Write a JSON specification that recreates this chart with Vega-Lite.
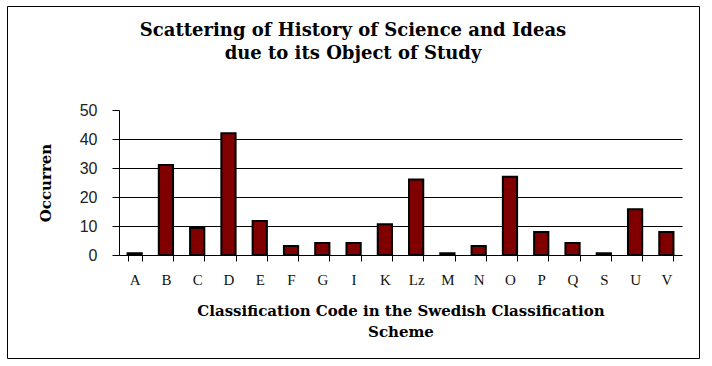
{
  "$schema": "https://vega.github.io/schema/vega-lite/v6.json",
  "width": 692,
  "height": 352,
  "padding": {"left": 7, "top": 6, "right": 6, "bottom": 6},
  "autosize": {"type": "pad"},
  "background": "white",
  "config": {"view": {"stroke": "black", "strokeWidth": 1}},
  "title": {
    "text": ["Scattering of History of Science and Ideas", "due to its Object of Study"],
    "font": "DejaVu Serif",
    "fontSize": 18,
    "fontWeight": "bold",
    "color": "black",
    "anchor": "middle",
    "frame": "group",
    "baseline": "bottom",
    "lineHeight": 23,
    "offset": -75
  },
  "data": {
    "values": [
      {"code": "A", "count": 0.6},
      {"code": "B", "count": 31},
      {"code": "C", "count": 9.3},
      {"code": "D", "count": 42},
      {"code": "E", "count": 11.7},
      {"code": "F", "count": 3.1},
      {"code": "G", "count": 4.1},
      {"code": "I", "count": 4.1},
      {"code": "K", "count": 10.6},
      {"code": "Lz", "count": 26},
      {"code": "M", "count": 0.6},
      {"code": "N", "count": 3.1},
      {"code": "O", "count": 27},
      {"code": "P", "count": 7.9},
      {"code": "Q", "count": 4.1},
      {"code": "S", "count": 0.6},
      {"code": "U", "count": 15.8},
      {"code": "V", "count": 7.9}
    ]
  },
  "mark": {"type": "bar", "fill": "#800000", "stroke": "black", "strokeWidth": 2},
  "encoding": {
    "x": {
      "field": "code",
      "type": "nominal",
      "sort": null,
      "scale": {"range": [112, 675], "paddingInner": 0.545, "paddingOuter": 0.2725},
      "axis": {
        "offset": -103,
        "labelAngle": 0,
        "labelFont": "Liberation Serif",
        "labelFontSize": 15,
        "labelColor": "#111",
        "labelPadding": 11,
        "domainColor": "black",
        "tickColor": "black",
        "tickSize": 6,
        "tickBand": "extent",
        "title": ["Classification Code in the Swedish Classification", "Scheme"],
        "titleFont": "DejaVu Serif",
        "titleFontSize": 15,
        "titleFontWeight": "bold",
        "titleColor": "black",
        "titleLineHeight": 21,
        "titlePadding": 16
      }
    },
    "y": {
      "field": "count",
      "type": "quantitative",
      "scale": {"domain": [0, 50], "range": [249, 104], "nice": false},
      "axis": {
        "offset": -112,
        "values": [0, 10, 20, 30, 40, 50],
        "labelFont": "Liberation Sans",
        "labelFontSize": 16,
        "labelColor": "#222",
        "labelPadding": 15,
        "domainColor": "black",
        "tickColor": "black",
        "tickSize": 7,
        "grid": true,
        "gridColor": "black",
        "gridOpacity": {"condition": {"test": "datum.value == 50 || datum.value == 0", "value": 0}, "value": 1},
        "title": "Occurren",
        "titleFont": "DejaVu Serif",
        "titleFontSize": 15,
        "titleFontWeight": "bold",
        "titleColor": "black",
        "titlePadding": 26
      }
    }
  }
}
